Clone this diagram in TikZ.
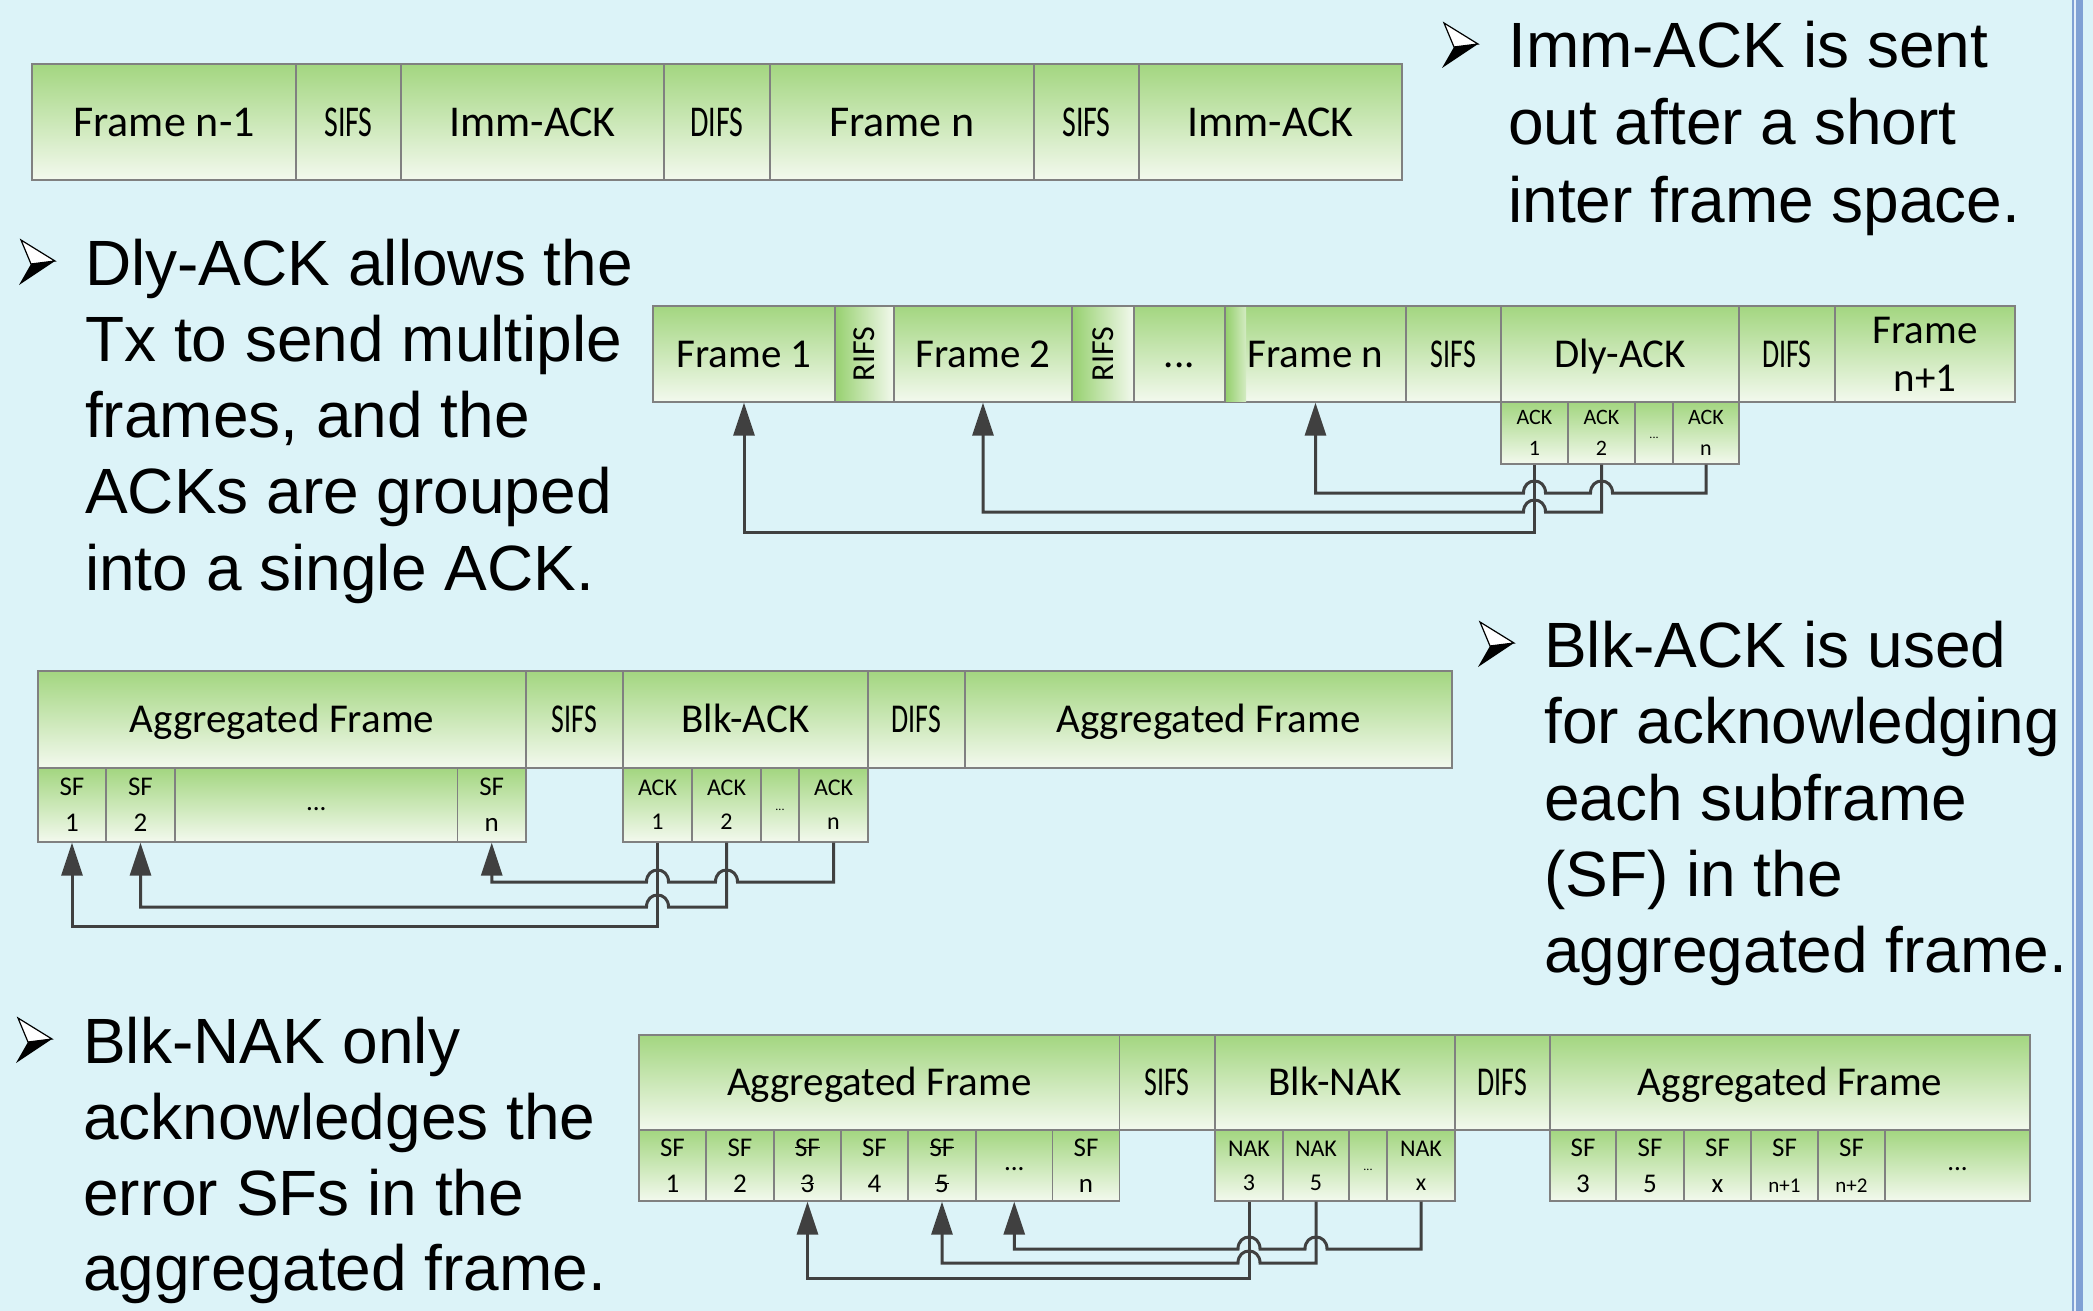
\documentclass[tikz,border=0pt]{standalone}
\usepackage{fontspec}
\usepackage{graphicx}
\setmainfont{Liberation Sans}
\newfontfamily\labfont{Carlito}
\usetikzlibrary{arrows.meta,calc}

\definecolor{bgc}{RGB}{220,243,248}
\definecolor{gtop}{RGB}{163,214,128}
\definecolor{gbot}{RGB}{243,249,238}
\definecolor{rifsl}{RGB}{150,208,110}
\definecolor{edgec}{RGB}{128,128,128}
\definecolor{connc}{RGB}{64,64,64}
\definecolor{barc}{RGB}{128,160,212}
\definecolor{barl}{RGB}{228,238,250}

\newcommand\mystrike[1]{\setbox0=\hbox{#1}\rlap{\raisebox{0.45\ht0}{\rule{\wd0}{1.6pt}}}\box0}
\newcommand\cnds[1]{\scalebox{0.68}[1]{#1}}
\newcommand\lowdots{\raisebox{-5pt}[0pt][0pt]{...}}
\newcommand\mkcell[7]{\node[#1, minimum width={(#4)-(#3)}, minimum height={(#6)-(#5)}] (#2) at ({((#3)+(#4))/2},{((#5)+(#6))/2}) {#7};}
\newcommand\hopover[2]{-- ($(#1.south |- #2)+(11,0)$) .. controls ($(#1.south |- #2)+(11,-16)$) and ($(#1.south |- #2)+(-11,-16)$) .. ($(#1.south |- #2)+(-11,0)$)}

\tikzset{
  cellbox/.style={rectangle, draw=edgec, line width=1.4pt, inner sep=0pt, top color=gtop, bottom color=gbot, text=black},
  bigone/.style={cellbox, font=\labfont\fontsize{44}{52}\selectfont, text height=28pt, text depth=0pt},
  big/.style={cellbox, font=\labfont\fontsize{41}{48}\selectfont, text height=26.4pt, text depth=0pt},
  bigtwo/.style={cellbox, font=\labfont\fontsize{41}{48}\selectfont, align=center},
  rifs/.style={rectangle, draw=edgec, line width=1.4pt, inner sep=0pt, left color=rifsl, right color=gbot, font=\labfont\fontsize{32}{36}\selectfont},
  small/.style={cellbox, font=\labfont\fontsize{27}{36}\selectfont, align=center},
  ackc/.style={cellbox, font=\labfont\fontsize{24}{34}\selectfont, align=center},
  tiny/.style={cellbox, font=\labfont\fontsize{22}{31}\selectfont, align=center},
  dotc/.style={cellbox, font=\labfont\fontsize{12}{12}\selectfont},
  link/.style={draw=connc, line width=3pt, -{Triangle[length=33pt,width=21pt]}},
  btxt/.style={anchor=base west, inner sep=0pt, font=\fontsize{64}{76}\selectfont},
  bulletmark/.pic={
    \filldraw[black, line width=1.2pt, fill=white, line join=miter] (2,-45) -- (36,-24) -- (12,-21) -- cycle;
    \fill[black] (12,-21) -- (36,-24) -- (0,0) -- cycle;
  }
}

\begin{document}
\begin{tikzpicture}[x=1pt,y=-1pt]
\useasboundingbox (0,0) rectangle (2093,1311);
\fill[bgc] (0,0) rectangle (2093,1311);
% right slide border
\fill[barc] (2071.5,0) rectangle (2073.5,1311);
\fill[barl] (2073.5,0) rectangle (2076,1311);
\fill[barc] (2076,0) rectangle (2082.5,1311);

% ---------- Row 1: Imm-ACK ----------
\mkcell{bigone}{r1a}{32}{296}{64}{180}{Frame n-1}
\mkcell{bigone}{r1b}{296}{401}{64}{180}{\cnds{SIFS}}
\mkcell{bigone}{r1c}{401}{664}{64}{180}{Imm-ACK}
\mkcell{bigone}{r1d}{664}{770}{64}{180}{\cnds{DIFS}}
\mkcell{bigone}{r1e}{770}{1034}{64}{180}{Frame n}
\mkcell{bigone}{r1f}{1034}{1139}{64}{180}{\cnds{SIFS}}
\mkcell{bigone}{r1g}{1139}{1402}{64}{180}{Imm-ACK}

% ---------- Row 2: Dly-ACK ----------
\mkcell{big}{f1}{653}{835}{306}{402}{Frame 1}
\mkcell{rifs}{rifs1}{835}{894}{306}{402}{\rotatebox{90}{RIFS}}
\mkcell{big}{f2}{894}{1072}{306}{402}{Frame 2}
\mkcell{rifs}{rifs2}{1072}{1134}{306}{402}{\rotatebox{90}{RIFS}}
\mkcell{big}{fdots}{1134}{1225}{306}{402}{...}
\mkcell{big}{fn}{1225}{1406}{306}{402}{Frame n}
\fill[left color=rifsl, right color=gbot!60!gtop] (1226,307) rectangle (1246,401);
\mkcell{big}{sifs2}{1406}{1501}{306}{402}{\cnds{SIFS}}
\mkcell{big}{dly}{1501}{1739}{306}{402}{Dly-ACK}
\mkcell{big}{difs2}{1739}{1835}{306}{402}{\cnds{DIFS}}
\mkcell{bigtwo}{fn1}{1835}{2015}{306}{402}{Frame\\n+1}
\mkcell{tiny}{ack1}{1501}{1568}{402}{464}{ACK\\1}
\mkcell{tiny}{ack2}{1568}{1635}{402}{464}{ACK\\2}
\mkcell{dotc}{ackd}{1635}{1673}{402}{464}{\lowdots}
\mkcell{tiny}{ackn}{1673}{1739}{402}{464}{ACK\\n}

\coordinate (v2a) at (0,493);
\coordinate (v2b) at (0,512);
\coordinate (v2c) at (0,532);
\draw[link] (ackn.south) -- (ackn.south |- v2a) \hopover{ack2}{v2a} \hopover{ack1}{v2a} -- (fn.south |- v2a) -- (fn.south);
\draw[link] (ack2.south) -- (ack2.south |- v2b) \hopover{ack1}{v2b} -- (f2.south |- v2b) -- (f2.south);
\draw[link] (ack1.south) -- (ack1.south |- v2c) -- (f1.south |- v2c) -- (f1.south);

% ---------- Row 3: Blk-ACK ----------
\mkcell{big}{agg3}{38}{526}{671}{768}{Aggregated Frame}
\mkcell{big}{sifs3}{526}{623}{671}{768}{\cnds{SIFS}}
\mkcell{big}{blk3}{623}{868}{671}{768}{Blk-ACK}
\mkcell{big}{difs3}{868}{965}{671}{768}{\cnds{DIFS}}
\mkcell{big}{agg3b}{965}{1452}{671}{768}{Aggregated Frame}
\mkcell{small}{sf31}{38}{106}{768}{842}{SF\\1}
\mkcell{small}{sf32}{106}{175}{768}{842}{SF\\2}
\mkcell{small}{sf3d}{175}{457.5}{768}{842}{\lowdots}
\mkcell{small}{sf3n}{457.5}{526}{768}{842}{SF\\n}
\mkcell{ackc}{a31}{623}{692}{768}{842}{ACK\\1}
\mkcell{ackc}{a32}{692}{761}{768}{842}{ACK\\2}
\mkcell{dotc}{a3d}{761}{799}{768}{842}{\lowdots}
\mkcell{ackc}{a3n}{799}{868}{768}{842}{ACK\\n}

\coordinate (v3a) at (0,882);
\coordinate (v3b) at (0,907);
\coordinate (v3c) at (0,926);
\draw[link] (a3n.south) -- (a3n.south |- v3a) \hopover{a32}{v3a} \hopover{a31}{v3a} -- (sf3n.south |- v3a) -- (sf3n.south);
\draw[link] (a32.south) -- (a32.south |- v3b) \hopover{a31}{v3b} -- (sf32.south |- v3b) -- (sf32.south);
\draw[link] (a31.south) -- (a31.south |- v3c) -- (sf31.south |- v3c) -- (sf31.south);

% ---------- Row 4: Blk-NAK ----------
\mkcell{big}{agg4}{639}{1119.5}{1035}{1130}{Aggregated Frame}
\mkcell{big}{sifs4}{1119.5}{1215}{1035}{1130}{\cnds{SIFS}}
\mkcell{big}{nak4}{1215}{1455}{1035}{1130}{Blk-NAK}
\mkcell{big}{difs4}{1455}{1550}{1035}{1130}{\cnds{DIFS}}
\mkcell{big}{agg4b}{1550}{2030}{1035}{1130}{Aggregated Frame}
\mkcell{small}{s41}{639}{706}{1130}{1201}{SF\\1}
\mkcell{small}{s42}{706}{774}{1130}{1201}{SF\\2}
\mkcell{small}{s43}{774}{841}{1130}{1201}{\mystrike{SF}\\\mystrike{3}}
\mkcell{small}{s44}{841}{908}{1130}{1201}{SF\\4}
\mkcell{small}{s45}{908}{976}{1130}{1201}{\mystrike{SF}\\\mystrike{5}}
\mkcell{small}{s4d}{976}{1052.5}{1130}{1201}{\lowdots}
\mkcell{small}{s4n}{1052.5}{1119.5}{1130}{1201}{SF\\n}
\mkcell{ackc}{n43}{1215}{1283}{1130}{1201}{NAK\\3}
\mkcell{ackc}{n45}{1283}{1349}{1130}{1201}{NAK\\5}
\mkcell{dotc}{n4d}{1349}{1387}{1130}{1201}{\lowdots}
\mkcell{ackc}{n4x}{1387}{1455}{1130}{1201}{NAK\\x}
\mkcell{small}{t43}{1550}{1616}{1130}{1201}{SF\\3}
\mkcell{small}{t45}{1616}{1684}{1130}{1201}{SF\\5}
\mkcell{small}{t4x}{1684}{1751}{1130}{1201}{SF\\x}
\mkcell{small}{t4n1}{1751}{1818}{1130}{1201}{SF\\{\fontsize{21}{36}\selectfont n+1}}
\mkcell{small}{t4n2}{1818}{1885}{1130}{1201}{SF\\{\fontsize{21}{36}\selectfont n+2}}
\mkcell{small}{t4d}{1885}{2030}{1130}{1201}{\lowdots}

\coordinate (v4a) at (0,1249);
\coordinate (v4b) at (0,1263);
\coordinate (v4c) at (0,1278);
\draw[link] (n4x.south) -- (n4x.south |- v4a) \hopover{n45}{v4a} \hopover{n43}{v4a} -- (s4d.south |- v4a) -- (s4d.south);
\draw[link] (n45.south) -- (n45.south |- v4b) \hopover{n43}{v4b} -- (s45.south |- v4b) -- (s45.south);
\draw[link] (n43.south) -- (n43.south |- v4c) -- (s43.south |- v4c) -- (s43.south);

% ---------- Bullet texts ----------
\pic at (1442,68) {bulletmark};
\node[btxt] (t1a) at (1508,68) {Imm-ACK is sent};
\node[btxt] (t1b) at (1508,145) {out after a short};
\node[btxt] (t1c) at (1508,222) {inter frame space.};

\pic at (19,285) {bulletmark};
\node[btxt] (t2a) at (85,285) {Dly-ACK allows the};
\node[btxt] (t2b) at (85,361) {Tx to send multiple};
\node[btxt] (t2c) at (85,437) {frames, and the};
\node[btxt] (t2d) at (85,513) {ACKs are grouped};
\node[btxt] (t2e) at (85,590) {into a single ACK.};

\pic at (1478,667) {bulletmark};
\node[btxt] (t3a) at (1544,667) {Blk-ACK is used};
\node[btxt] (t3b) at (1544,743) {for acknowledging};
\node[btxt] (t3c) at (1544,820) {each subframe};
\node[btxt] (t3d) at (1544,896) {(SF) in the};
\node[btxt] (t3e) at (1544,972) {aggregated frame.};

\pic at (16,1063) {bulletmark};
\node[btxt] (t4a) at (83,1063) {Blk-NAK only};
\node[btxt] (t4b) at (83,1139) {acknowledges the};
\node[btxt] (t4c) at (83,1215) {error SFs in the};
\node[btxt] (t4d) at (83,1290) {aggregated frame.};
\end{tikzpicture}
\end{document}
